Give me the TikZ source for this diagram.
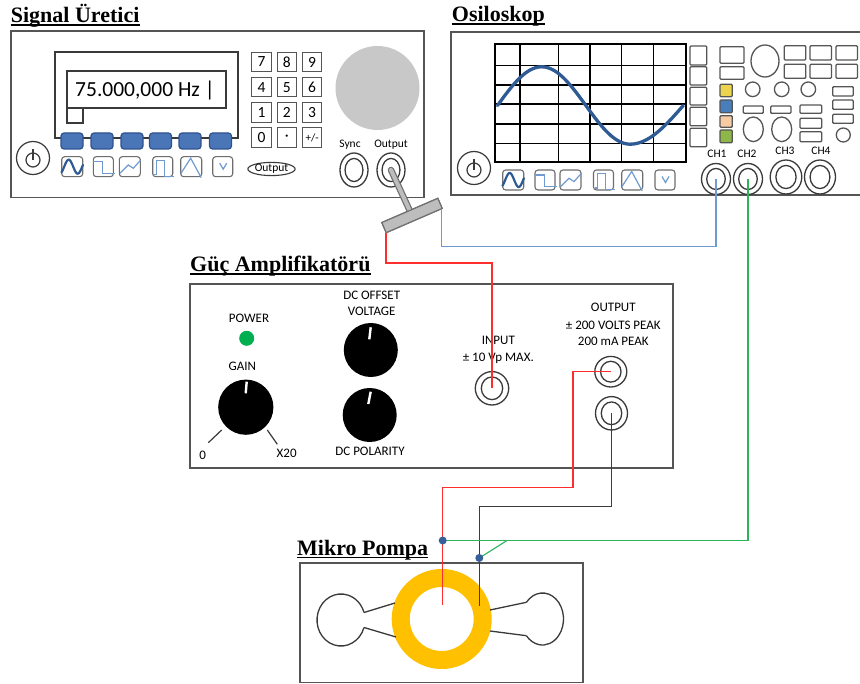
\documentclass[tikz,border=0pt]{standalone}
\usepackage{fontspec}
\setmainfont{Liberation Serif}
\newfontfamily\calfont{Carlito}
\usetikzlibrary{calc,shapes.geometric}

\definecolor{frame}{HTML}{555555}
\definecolor{ink}{HTML}{3A3A3A}
\definecolor{keyblue}{HTML}{4A76B8}
\definecolor{keyedge}{HTML}{2F528F}
\definecolor{waveblue}{HTML}{2F5B94}
\definecolor{lightwave}{HTML}{6F9BD1}
\definecolor{knobgray}{HTML}{C8C8C8}
\definecolor{probegray}{HTML}{BDBDBD}
\definecolor{probeedge}{HTML}{707070}
\definecolor{ringorange}{HTML}{FFC000}
\definecolor{ledgreen}{HTML}{00B050}
\definecolor{wirered}{HTML}{FF2E2E}
\definecolor{wireblue}{HTML}{6F9BD1}
\definecolor{wiregreen}{HTML}{2DB35A}
\definecolor{wireblack}{HTML}{3C3C3C}
\definecolor{dotblue}{HTML}{35609A}
\definecolor{chyellow}{HTML}{EDD44E}
\definecolor{chblue}{HTML}{4A7EBB}
\definecolor{chpeach}{HTML}{F9CBA5}
\definecolor{chgreen}{HTML}{8DB749}

\tikzset{
  devbox/.style={draw=frame, line width=1.7pt},
  displine/.style={draw=ink, line width=1.3pt},
  ctl/.style={draw=frame, line width=1.3pt, rounded corners=1pt},
  title/.style={font=\fontsize{22}{22}\selectfont\bfseries, inner sep=0pt, anchor=base west},
  uline/.style={line width=1.6pt},
  lbl/.style={font=\calfont\fontsize{13}{13}\selectfont, text=black, inner sep=0pt},
  smalllbl/.style={font=\calfont\fontsize{11.5}{11.5}\selectfont, text=black, inner sep=0pt},
  key/.style={draw=frame, line width=1.1pt, minimum width=19.5pt, minimum height=19.5pt,
    inner sep=0pt, font=\calfont\fontsize{15.5}{15.5}\selectfont},
  bluekey/.style={draw=keyedge, fill=keyblue, line width=1.2pt, rounded corners=3pt},
  btnframe/.style={draw=frame!85, line width=1.1pt, rounded corners=3pt},
  glyph/.style={lightwave, line width=1.2pt},
  knob/.style={fill=black},
  pointer/.style={white, line width=2.4pt},
  wire/.style={line width=1.3pt},
  pics/jack/.style args={#1/#2}{code={
    \draw[ink, line width=1.3pt] (0,0) ellipse [x radius=#1, y radius=#2];
    \draw[ink, line width=1.3pt] (0,0) ellipse [x radius={#1*0.64}, y radius={#2*0.68}];
    \coordinate (-c) at (0,0);
  }},
  pics/powerbtn/.style={code={
    \draw[ink, line width=1.2pt] (0,0) circle (16.5);
    \draw[ink, line width=1.2pt] (0,2) circle (7);
    \draw[ink, line width=1.2pt] (0,-8.5) -- (0,2);
  }},
  pics/sinebtn/.style={code={
    \draw[btnframe] (0,0) rectangle (21,20);
    \draw[waveblue, line width=2.2pt] plot[domain=-0.5:21.5, samples=40] (\x, {10-7*cos((\x-7)*20)});
  }},
  pics/stepbtn/.style={code={
    \draw[btnframe] (0,0) rectangle (20,20);
    \draw[glyph] (0,5) -- (9.4,5) -- (9.4,16.6) -- (21.7,16.6);
  }},
  pics/rampbtn/.style={code={
    \draw[btnframe] (0,0) rectangle (21,20);
    \draw[glyph] (0.7,16.6) -- (9,8.3) -- (14,11.6) -- (21.4,3.3);
  }},
  pics/pulsebtn/.style={code={
    \draw[btnframe] (0,0) rectangle (20,20);
    \draw[glyph] (1,18) -- (4,18) -- (4,3.5) -- (12,3.5) -- (12,19.5) -- (21,19.5);
  }},
  pics/tribtn/.style={code={
    \draw[btnframe] (0,0) rectangle (21,20);
    \draw[glyph] (0,17) -- (10,1.5) -- (20.5,21);
  }},
  pics/vbtn/.style={code={
    \draw[btnframe] (0,0) rectangle (20,20);
    \draw[glyph] (7,6.5) -- (10.5,12.5) -- (14,6.5);
  }},
}

\begin{document}
\begin{tikzpicture}[x=1pt, y=-1pt]
\useasboundingbox (0,0) rectangle (860,684);
\fill[white] (0,0) rectangle (860,684);

% ---------------- Signal generator ----------------
\node[title] (sgtitle) at (10.7,23) {Signal Üretici};
\draw[uline] ([yshift=-2.3pt]sgtitle.base west) -- ([yshift=-2.3pt]sgtitle.base east);
\draw[devbox] (10.7,31) rectangle (424,197.5);

\draw[displine] (55,52) rectangle (238,138);
\draw[displine, fill=white] (67,71) rectangle (226,108);
\draw[displine, fill=white] (67,108) rectangle (83,123);
\node[font=\calfont\fontsize{21.5}{21.5}\selectfont, inner sep=0pt, anchor=base west] (freq) at (75,96.7) {75.000,000 Hz |};

\foreach \cx [count=\i] in {72,102,132,160.5,190,220.5}
  \draw[bluekey] (\cx-11,133) rectangle (\cx+11,149);

\pic at (61.7,156.7) {sinebtn};
\pic at (93.3,156.7) {stepbtn};
\pic at (119.3,156.7) {rampbtn};
\pic at (152.7,156.7) {pulsebtn};
\pic at (180.7,156.7) {tribtn};
\pic at (212.7,156.7) {vbtn};
\pic at (33,158) {powerbtn};

% keypad
\foreach \c/\r/\t in {0/0/7,1/0/8,2/0/9,0/1/4,1/1/5,2/1/6,0/2/1,1/2/2,2/2/3,0/3/0}
  \node[key] (key\c\r) at ({261.5+25.3*\c},{62+25.2*\r}) {\t};
\node[key] (key13) at (286.8,137.6) {\textperiodcentered};
\node[key, font=\calfont\fontsize{11}{11}\selectfont] (key23) at (312.1,137.6) {+/-};
\node[ellipse, draw=ink, line width=1.1pt, inner sep=0pt, minimum width=40pt, minimum height=13pt,
  font=\calfont\fontsize{11.5}{11.5}\selectfont] (outbtn) at (271.5,169) {Output};

\fill[knobgray] (377.5,88) circle (42);
\node[smalllbl] (synclbl) at (350,145) {Sync};
\node[smalllbl] (outlbl) at (391,145) {Output};
\pic (sync) at (354,170) {jack=14/17};
\pic (sgout) at (391,170) {jack=14/17};

% probe head on the output jack
\node[draw=probeedge, fill=probegray, line width=1.2pt, minimum width=61pt, minimum height=11pt,
  inner sep=0pt, rotate=23.4] (probe) at (412,215.5) {};
\draw[probeedge, line width=6.5pt, line cap=round] (sgout-c) -- (probe.center);
\draw[probegray, line width=4pt, line cap=round] (sgout-c) -- (probe.center);
\node[draw=probeedge, fill=probegray, line width=1.2pt, minimum width=61pt, minimum height=11pt,
  inner sep=0pt, rotate=23.4] at (412,215.5) {};

% ---------------- Oscilloscope ----------------
\node[title] (ostitle) at (451.7,21.5) {Osiloskop};
\draw[uline] ([yshift=-2.3pt]ostitle.base west) -- ([yshift=-2.3pt]ostitle.base east);
\draw[devbox] (450.7,32.3) rectangle (864,195);

\foreach \gx in {520,558.3,590,621.7,653.3}
  \draw[black, line width=1.5pt] (\gx,44) -- (\gx,161.7);
\foreach \gy in {65.7,85,104,124,143.3}
  \draw[black, line width=1.5pt] (495,\gy) -- (685.7,\gy);
\draw[black, line width=1.8pt] (495,44) rectangle (685.7,161.7);
\draw[waveblue, line width=3.3pt, line cap=round]
  plot[domain=0:270, samples=50] ({497.5+\x/360*176.7}, {105.5-38.7*sin(\x)})
  -- plot[domain=270:360, samples=20] ({630+(\x-270)/90*53.3}, {105.5-38.7*sin(\x)});

\foreach \ty/\by in {46/65,66.7/85,87.3/105,107.3/125.7,128.3/146.7}
  \draw[ctl] (690,\ty) rectangle (706.7,\by);

\draw[ctl] (720,46.7) rectangle (744,63.3);
\draw[ctl] (720,66.7) rectangle (744,79.3);
\draw[frame, line width=1.3pt] (765,61) ellipse [x radius=14, y radius=16];
\foreach \rx in {784.3,810,836} {
  \draw[ctl] (\rx,45.7) rectangle (\rx+21.5,60);
  \draw[ctl] (\rx,64.3) rectangle (\rx+21.5,78.3);
}
\draw[ctl, fill=chyellow] (720,84.3) rectangle (732.3,96.7);
\draw[ctl, fill=chblue] (720,100) rectangle (732.3,112.7);
\draw[ctl, fill=chpeach] (720,115.7) rectangle (732.3,127.3);
\draw[ctl, fill=chgreen] (720,130) rectangle (732.3,142.7);
\foreach \cx in {752.7,781.7,808.3}
  \draw[frame, line width=1.3pt] (\cx,89.3) circle (7.3);
\draw[ctl] (743.3,106) rectangle (763.3,113.3);
\draw[ctl] (770.7,106) rectangle (791,113.3);
\draw[ctl] (800,105) rectangle (821.7,113.3);
\draw[frame, line width=1.3pt] (753.3,129.3) ellipse [x radius=10, y radius=12.3];
\draw[frame, line width=1.3pt] (781.7,129.3) ellipse [x radius=10, y radius=12.3];
\draw[ctl] (800,118.3) rectangle (821.7,128.3);
\draw[ctl] (800,131.7) rectangle (821.7,141.7);
\draw[ctl] (832.7,86.7) rectangle (853.3,96);
\draw[ctl] (832.7,100) rectangle (853.3,109.3);
\draw[ctl] (832.7,114.3) rectangle (853.3,123.3);
\draw[frame, line width=1.3pt] (843.3,135) circle (7);

\node[smalllbl] (ch1lbl) at (717,154) {CH1};
\node[smalllbl] (ch2lbl) at (747,154) {CH2};
\node[smalllbl] (ch3lbl) at (785,151) {CH3};
\node[smalllbl] (ch4lbl) at (821,151) {CH4};
\pic (ch1) at (716,179) {jack=14.5/15.5};
\pic (ch2) at (748,179) {jack=14.5/15.5};
\pic (ch3) at (786,177) {jack=15.8/17};
\pic (ch4) at (820,177) {jack=15.5/17};

\pic at (474,168) {powerbtn};
\pic at (502.7,170) {sinebtn};
\pic at (535,170) {stepbtn};
\pic at (560,170) {rampbtn};
\pic at (593.5,170) {pulsebtn};
\pic at (621.7,170) {tribtn};
\pic at (655,170) {vbtn};

% ---------------- Power amplifier ----------------
\node[title] (amptitle) at (190,272) {Güç Amplifikatörü};
\draw[uline] ([yshift=-2.3pt]amptitle.base west) -- ([yshift=-2.3pt]amptitle.base east);
\draw[devbox] (190,284.3) rectangle (673.3,468.3);

\node[lbl] (powerlbl) at (249,318.3) {POWER};
\fill[ledgreen] (246.7,338.3) circle (7.5);
\node[lbl] (gainlbl) at (242.3,366) {GAIN};
\fill[knob] (245.8,407.2) circle (27.6);
\draw[pointer] (246.7,381.7) -- (245.7,393.3);
\draw[ink, line width=1.2pt] (208.3,442.7) -- (221.7,430);
\draw[ink, line width=1.2pt] (267.3,430) -- (277.3,444.3);
\node[lbl] (zerolbl) at (202.7,455.5) {0};
\node[lbl] (x20lbl) at (286.7,453) {X20};

\node[lbl] (offsetlbl) at (371.7,295) {DC OFFSET};
\node[lbl] (voltlbl) at (371.7,311.7) {VOLTAGE};
\fill[knob] (370.8,350) circle (27);
\draw[pointer] (370.7,327.3) -- (369.3,339.3);
\fill[knob] (369.7,415) circle (27);
\draw[pointer] (370.7,391.7) -- (368.3,404);
\node[lbl] (pollbl) at (370,451.7) {DC POLARITY};

\node[lbl] (inlbl) at (498.3,340.7) {INPUT};
\node[lbl] (inrange) at (498.3,358.3) {± 10 Vp MAX.};
\pic (ampin) at (492,388.3) {jack=16.7/16.7};

\node[lbl] (outhead) at (613.3,307.7) {OUTPUT};
\node[lbl] (outvolt) at (613.3,325) {± 200 VOLTS PEAK};
\node[lbl] (outcur) at (613.3,341.7) {200 mA PEAK};
\pic (ampout1) at (610.8,371.7) {jack=16/15.3};
\pic (ampout2) at (611.5,413.3) {jack=16/16.7};

% ---------------- Micro pump ----------------
\node[title] (pumptitle) at (297,555) {Mikro Pompa};
\draw[uline] ([yshift=-2.3pt]pumptitle.base west) -- ([yshift=-2.3pt]pumptitle.base east);
\draw[devbox] (300,563) rectangle (583,682.5);

\draw[ringorange, line width=18pt] (441.7,619) circle (41);
\draw[ink, line width=1.3pt] (341,620) ++(17:24 and 26)
  arc [start angle=17, end angle=343, x radius=24, y radius=26];
\draw[ink, line width=1.3pt] (364,612.5) -- (395,603);
\draw[ink, line width=1.3pt] (364,627.5) -- (396,637);
\draw[ink, line width=1.3pt] (542.5,619) ++(-140:21 and 26)
  arc [start angle=-140, end angle=140, x radius=21, y radius=26];
\draw[ink, line width=1.3pt] (490,610) -- (526.4,602.3);
\draw[ink, line width=1.3pt] (490,631) -- (526.4,635.7);

% ---------------- Wiring ----------------
\coordinate (redbend) at (0,263);
\coordinate (bluebend) at (0,246.5);
\coordinate (redjog) at (573,487.3);
\coordinate (blackjog) at (479.3,506.7);
\coordinate (pumpred) at (442.7,605);
\coordinate (pumpblack) at (479.3,606);
\coordinate (dotA) at (442.7,540.5);
\coordinate (dotB) at (479.3,558);
\coordinate (greensplit) at (507,540.5);

\draw[wire, wirered] (probe.south west) -- (probe.south west |- redbend) -| (ampin-c);
\draw[wire, wireblue, line width=1.1pt] ([xshift=-1.5pt]probe.south east) -- ([xshift=-1.5pt]probe.south east |- bluebend) -| (ch1-c);
\draw[wire, wirered] (ampout1-c) -| (redjog) -| (pumpred);
\draw[wire, wireblack] (ampout2-c) |- (blackjog) -- (pumpblack);
\draw[wire, wiregreen, line width=1.1pt] (ch2-c) |- (dotA);
\draw[wire, wiregreen, line width=1.1pt] (greensplit) -- (dotB);
\fill[dotblue] (dotA) circle (4);
\fill[dotblue] (dotB) circle (4);
\end{tikzpicture}
\end{document}
